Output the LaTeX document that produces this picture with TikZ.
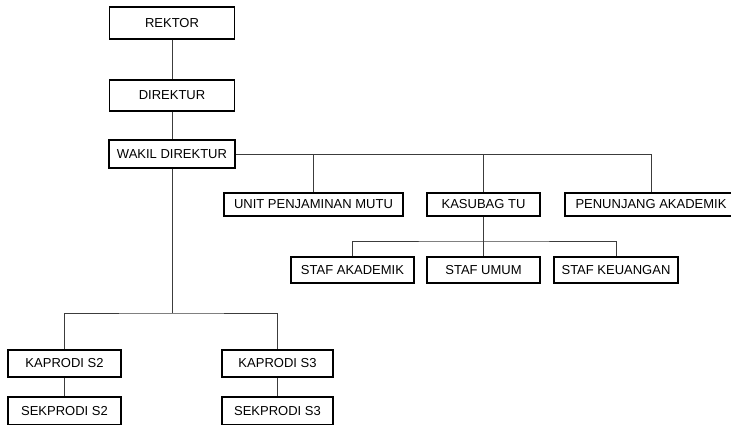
\documentclass[tikz,border=0pt]{standalone}
\usepackage{fontspec}
\setmainfont{Liberation Sans}
\usepackage{tikz}
\usetikzlibrary{positioning,calc}
\definecolor{orgline}{HTML}{3C3C3C}
\tikzset{
  orgbox/.style={draw=black, line width=1.4pt, fill=white, inner sep=0pt,
    minimum height=#1, font=\fontsize{13}{15}\selectfont},
  orgbox/.default=23pt,
  orgedge/.style={draw=orgline, line width=0.9pt},
}
\begin{document}
\begin{tikzpicture}[x=1pt,y=-1pt]
\useasboundingbox (0,0) rectangle (731,424);
\node[orgbox=32pt, minimum width=125pt] (rektor) at (172,23) {REKTOR};
\node[orgbox=31pt, minimum width=125pt] (direktur) at (172,95.5) {DIREKTUR};
\node[orgbox=28pt, minimum width=126pt] (wakil) at (172,154) {WAKIL DIREKTUR};
\node[orgbox, minimum width=179pt] (upm) at (313.5,204.5) {UNIT PENJAMINAN MUTU};
\node[orgbox, minimum width=113pt] (kasubag) at (483.5,204.5) {KASUBAG TU};
\node[orgbox, minimum width=172pt] (penunjang) at (651,204.5) {PENUNJANG AKADEMIK};
\node[orgbox=26pt, minimum width=123pt] (stafak) at (352.5,270) {STAF AKADEMIK};
\node[orgbox=26pt, minimum width=113pt] (stafum) at (483.5,270) {STAF UMUM};
\node[orgbox=26pt, minimum width=124pt] (stafkeu) at (616,270) {STAF KEUANGAN};
\node[orgbox=27pt, minimum width=113pt] (kap2) at (64.5,363.5) {KAPRODI S2};
\node[orgbox=27pt, minimum width=111pt] (kap3) at (277.5,363.5) {KAPRODI S3};
\node[orgbox=28pt, minimum width=113pt] (sek2) at (64.5,411) {SEKPRODI S2};
\node[orgbox=28pt, minimum width=111pt] (sek3) at (277.5,411) {SEKPRODI S3};
\coordinate (tu) at (483.5,241);
\coordinate (prodi) at (172,313);
\draw[orgedge] (rektor) -- (direktur);
\draw[orgedge] (direktur) -- (wakil);
\draw[orgedge] (wakil.east) -| (penunjang.north);
\draw[orgedge] (upm.north) -- (upm.north |- wakil.east);
\draw[orgedge] (kasubag.north) -- (kasubag.north |- wakil.east);
\draw[orgedge] (kasubag) -- (stafum);
\draw[orgedge] (stafak.north) |- (tu) -| (stafkeu.north);
\draw[orgedge] (wakil) -- (prodi);
\draw[orgedge] (kap2.north) |- (prodi) -| (kap3.north);
\draw[orgedge] (kap2) -- (sek2);
\draw[orgedge] (kap3) -- (sek3);
\end{tikzpicture}
\end{document}
